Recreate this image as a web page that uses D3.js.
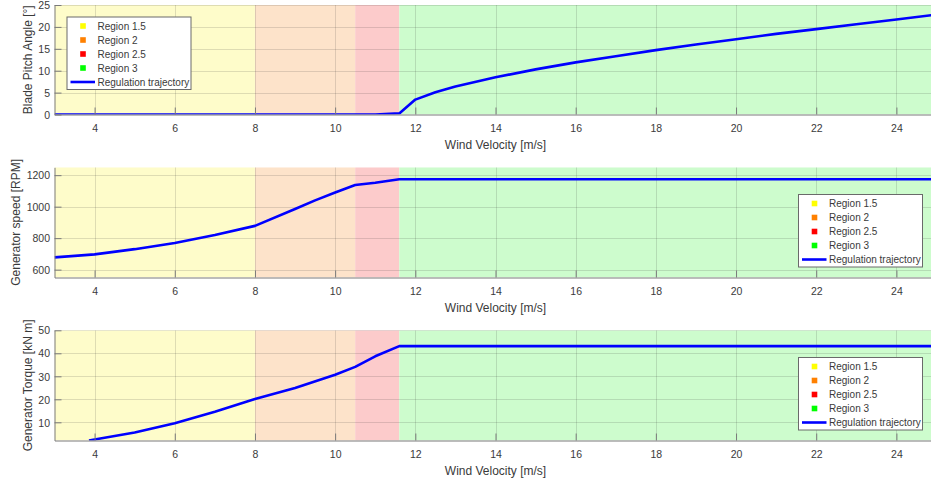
<!DOCTYPE html>
<html>
<head>
<meta charset="utf-8">
<script src="https://cdn.jsdelivr.net/npm/d3@7"></script>
<style>
  body { margin: 0; background: #fff; }
  svg { display: block; font-family: "Liberation Sans", Arial, Helvetica, sans-serif; }
</style>
</head>
<body>
<svg id="chart" width="931" height="481"></svg>
<script>
// Controller operating regions (wind speed bounds, m/s)
const regionNames = ["Region 1.5", "Region 2", "Region 2.5", "Region 3"];
const regionStart = [3, 8, 10.5, 11.6];
const regionEnd = [8, 10.5, 11.6, 25];
const regionMarkerColors = ["#ffff00", "#ff8000", "#ff0000", "#00ff00"];
const regionFillColors = ["#fefcca", "#fde3ca", "#fccbcb", "#cdfccd"];

// Blade pitch angle [deg] vs wind speed
const pitchWind = [3, 4, 5, 6, 7, 8, 9, 10, 11, 11.6, 12, 12.5, 13, 14, 15, 16, 17, 18, 19, 20, 21, 22, 23, 24, 25];
const pitchDeg = [0, 0, 0, 0, 0, 0, 0, 0, 0, 0.25, 3.4, 5.1, 6.4, 8.5, 10.3, 11.9, 13.3, 14.7, 16.0, 17.2, 18.4, 19.5, 20.6, 21.7, 22.8];

// Generator speed [RPM] vs wind speed
const speedWind = [3, 4, 5, 6, 7, 8, 9, 9.5, 10, 10.5, 11, 11.6, 25];
const speedRpm = [678, 697, 730, 769, 820, 878, 985, 1040, 1090, 1138, 1152, 1174, 1174];

// Generator torque [kN m] vs wind speed
const torqueWind = [3.86, 4, 5, 6, 7, 8, 9, 10, 10.5, 11, 11.6, 25];
const torqueKNm = [2.1, 2.5, 5.6, 9.6, 14.6, 20.1, 24.9, 30.7, 34.1, 38.7, 43.1, 43.1];

// Axis ticks
const windTicks = [4, 6, 8, 10, 12, 14, 16, 18, 20, 22, 24];
const pitchTicks = [0, 5, 10, 15, 20, 25];
const speedTicks = [600, 800, 1000, 1200];
const torqueTicks = [10, 20, 30, 40, 50];

const trajectoryLabel = "Regulation trajectory";
const windLabel = "Wind Velocity [m/s]";

const svg = d3.select("#chart");
const textColor = "#3a3a3a";
const axisColor = "#7a7a7a";
const gridColor = "rgba(38,38,38,0.15)";
const lineColor = "#0000ff";

const x = d3.scaleLinear().domain([3, 25]).range([54.5, 936.5]);

const panels = [
  { id: "pitch", top: 5, bottom: 114.5, domain: [0, 25], ticks: pitchTicks,
    xs: pitchWind, ys: pitchDeg, ylabel: "Blade Pitch Angle [°]", ylabelX: 32,
    legend: { x: 67, y: 17 } },
  { id: "speed", top: 167.3, bottom: 277.5, domain: [550, 1250], ticks: speedTicks,
    xs: speedWind, ys: speedRpm, ylabel: "Generator speed [RPM]", ylabelX: 20,
    legend: { x: 798.5, y: 194.5 } },
  { id: "torque", top: 330.3, bottom: 440.5, domain: [2.1, 50], ticks: torqueTicks,
    xs: torqueWind, ys: torqueKNm, ylabel: "Generator Torque [kN m]", ylabelX: 32,
    legend: { x: 798.5, y: 357.5 } }
];

const plainNumber = d3.format("d");

panels.forEach(p => {
  const y = d3.scaleLinear().domain(p.domain).range([p.bottom, p.top]);
  const g = svg.append("g").attr("class", "panel-" + p.id);

  const clipId = "clip-" + p.id;
  svg.append("clipPath").attr("id", clipId)
    .append("rect")
    .attr("x", x.range()[0]).attr("y", p.top)
    .attr("width", x.range()[1] - x.range()[0]).attr("height", p.bottom - p.top);

  const plot = g.append("g").attr("clip-path", `url(#${clipId})`);

  // region shading
  plot.selectAll("rect.region")
    .data(regionNames.map((n, i) => ({ n, s: regionStart[i], e: regionEnd[i], c: regionFillColors[i] })))
    .join("rect")
    .attr("class", "region")
    .attr("x", d => x(d.s)).attr("width", d => x(d.e) - x(d.s))
    .attr("y", p.top).attr("height", p.bottom - p.top)
    .attr("fill", d => d.c);

  // grid
  plot.selectAll("line.gx").data(windTicks).join("line")
    .attr("x1", d => Math.round(x(d)) + 0.5).attr("x2", d => Math.round(x(d)) + 0.5)
    .attr("y1", p.top).attr("y2", p.bottom)
    .attr("stroke", gridColor).attr("stroke-width", 1);
  plot.selectAll("line.gy").data(p.ticks).join("line")
    .attr("x1", x.range()[0]).attr("x2", x.range()[1])
    .attr("y1", d => Math.round(y(d)) + 0.5).attr("y2", d => Math.round(y(d)) + 0.5)
    .attr("stroke", gridColor).attr("stroke-width", 1);

  // trajectory
  const pts = p.xs.map((v, i) => [v, p.ys[i]]);
  plot.append("path")
    .datum(pts)
    .attr("fill", "none")
    .attr("stroke", lineColor)
    .attr("stroke-width", 2.6)
    .attr("stroke-linejoin", "round")
    .attr("d", d3.line().x(d => x(d[0])).y(d => y(d[1])));

  // x axis (ticks pointing inward)
  const xAxis = g.append("g")
    .attr("transform", `translate(0,${p.bottom})`)
    .call(d3.axisBottom(x).tickValues(windTicks).tickFormat(plainNumber)
      .tickSize(-7).tickSizeOuter(0).tickPadding(0));
  xAxis.select(".domain").attr("stroke", axisColor);
  xAxis.selectAll(".tick line").attr("stroke", axisColor);
  xAxis.selectAll(".tick text")
    .attr("y", 17.5).attr("dy", null)
    .attr("fill", textColor).attr("font-size", "10.5px");

  // y axis
  const yAxis = g.append("g")
    .attr("transform", `translate(${x.range()[0]},0)`)
    .call(d3.axisLeft(y).tickValues(p.ticks).tickFormat(plainNumber)
      .tickSize(-7).tickSizeOuter(0).tickPadding(0));
  yAxis.select(".domain").attr("stroke", axisColor);
  yAxis.selectAll(".tick line").attr("stroke", axisColor);
  yAxis.selectAll(".tick text")
    .attr("x", -4.5).attr("dy", "0.35em")
    .attr("fill", textColor).attr("font-size", "10.5px");

  // axis labels
  g.append("text")
    .attr("x", (x.range()[0] + x.range()[1]) / 2)
    .attr("y", p.bottom + 34)
    .attr("text-anchor", "middle")
    .attr("fill", textColor).attr("font-size", "12px")
    .text(windLabel);
  g.append("text")
    .attr("transform", `translate(${p.ylabelX},${(p.top + p.bottom) / 2}) rotate(-90)`)
    .attr("text-anchor", "middle")
    .attr("fill", textColor).attr("font-size", "12px")
    .text(p.ylabel);

  // legend
  const lg = g.append("g").attr("transform", `translate(${p.legend.x},${p.legend.y})`);
  lg.append("rect")
    .attr("width", 124).attr("height", 72.5)
    .attr("fill", "#ffffff").attr("stroke", "#6a6a6a").attr("stroke-width", 1);
  const rowY = i => 9 + i * 14;
  regionNames.forEach((n, i) => {
    lg.append("rect")
      .attr("x", 16 - 2.8).attr("y", rowY(i) - 2.8)
      .attr("width", 5.6).attr("height", 5.6)
      .attr("fill", regionMarkerColors[i]);
    lg.append("text")
      .attr("x", 30.5).attr("y", rowY(i)).attr("dy", "0.35em")
      .attr("fill", textColor).attr("font-size", "10px")
      .text(n);
  });
  lg.append("line")
    .attr("x1", 3.5).attr("x2", 28).attr("y1", rowY(4)).attr("y2", rowY(4))
    .attr("stroke", lineColor).attr("stroke-width", 2.6);
  lg.append("text")
    .attr("x", 30.5).attr("y", rowY(4)).attr("dy", "0.35em")
    .attr("fill", textColor).attr("font-size", "10px")
    .text(trajectoryLabel);
});
</script>
</body>
</html>
